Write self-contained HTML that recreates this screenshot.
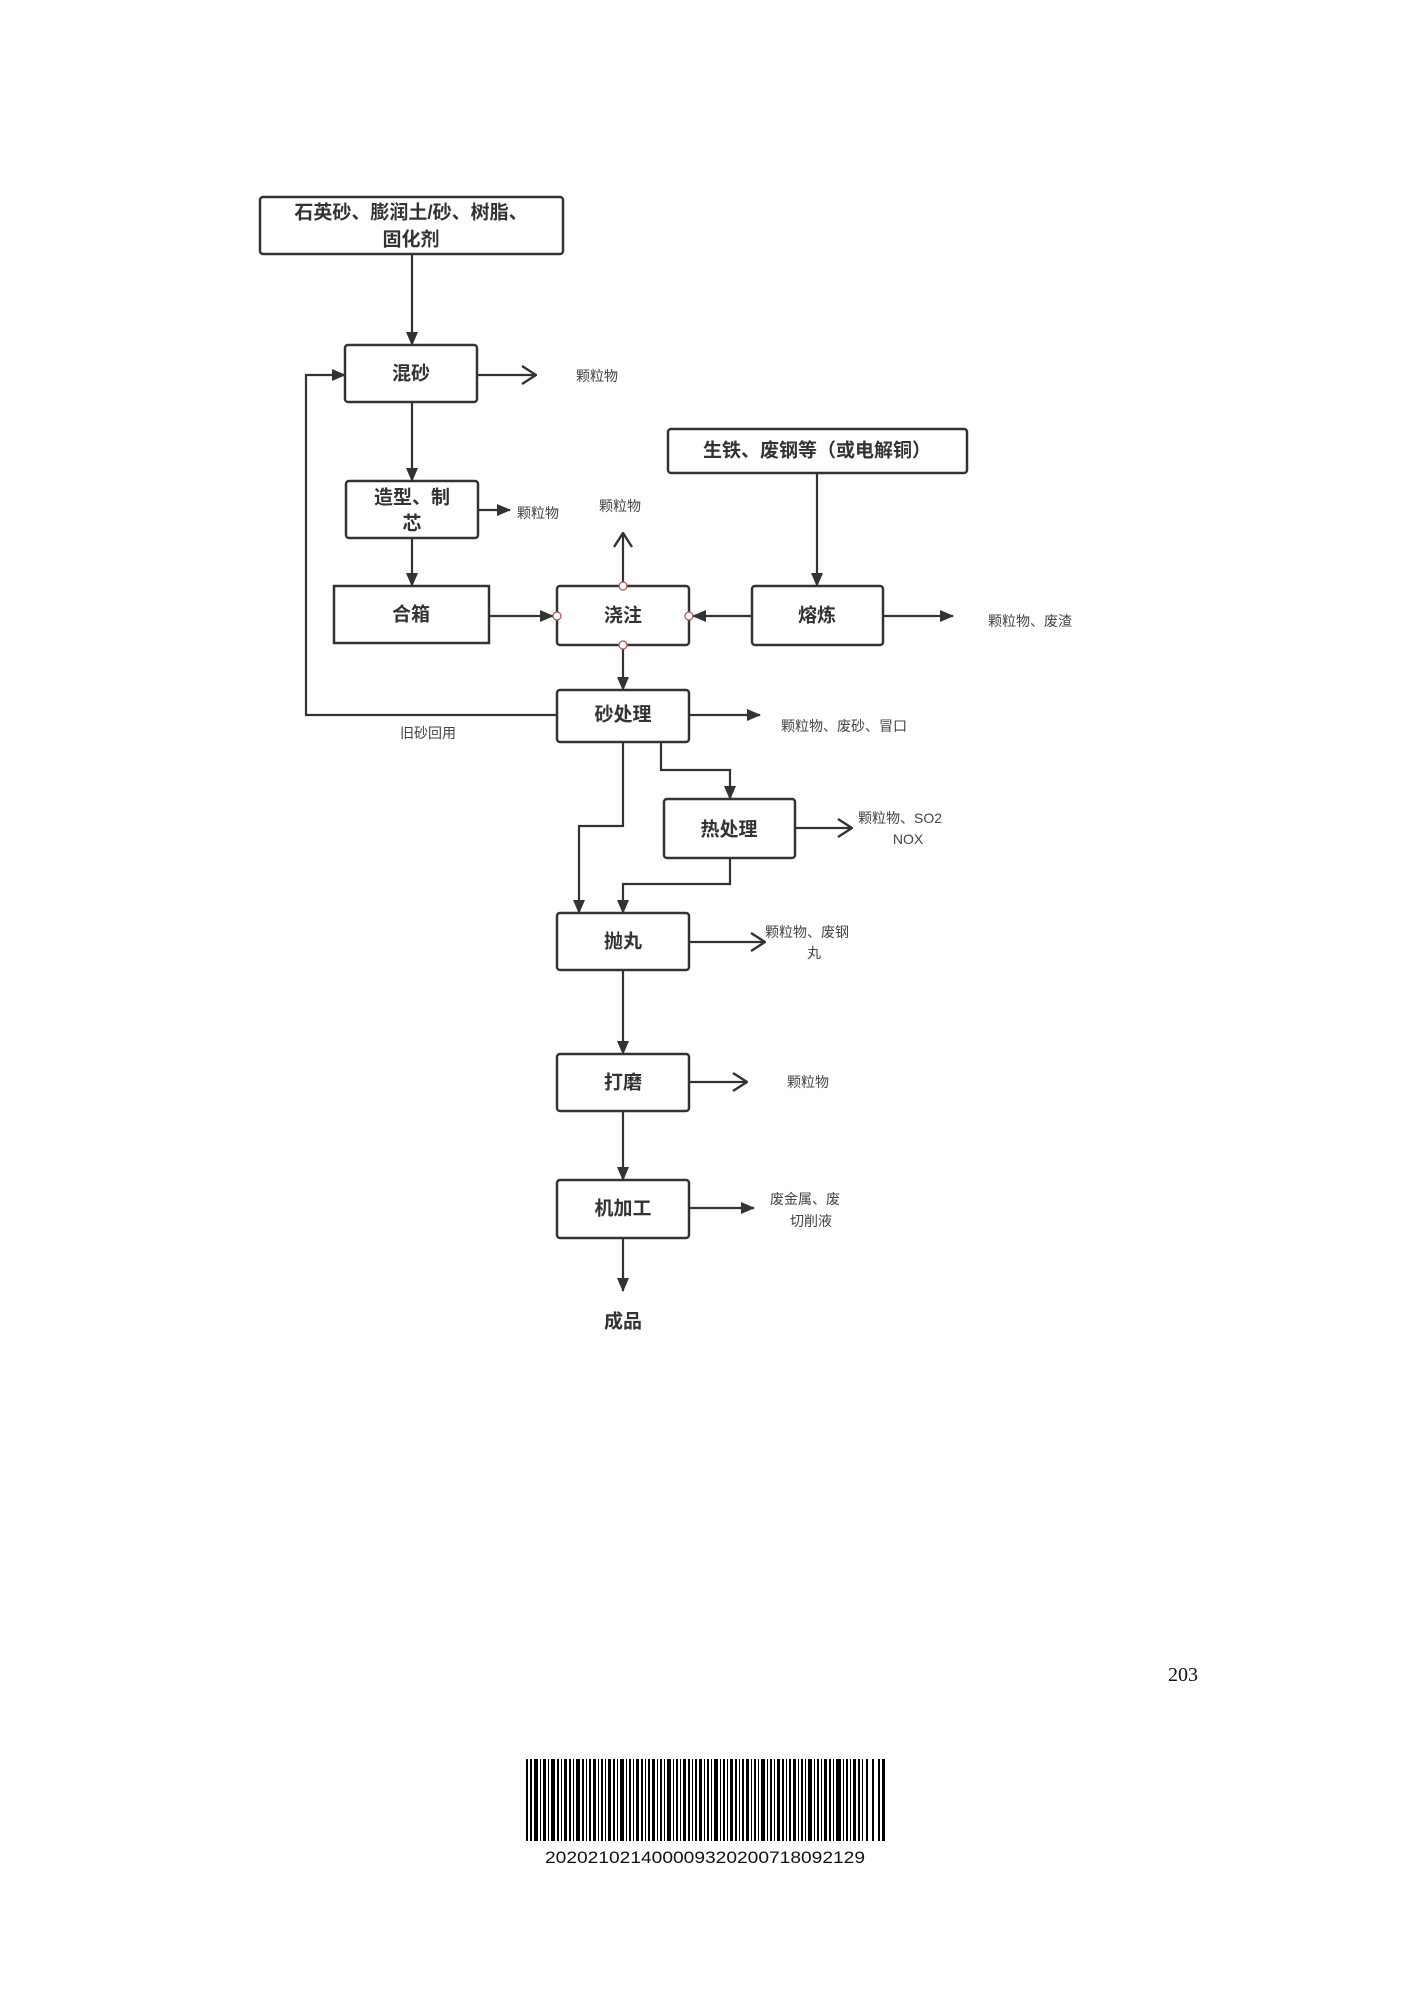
<!DOCTYPE html>
<html><head><meta charset="utf-8">
<style>
html,body{margin:0;padding:0;background:#fff;}
svg{display:block;}
.b{font-family:"Liberation Sans","Noto Sans CJK SC",sans-serif;font-weight:bold;font-size:19px;fill:#333;text-anchor:middle;dominant-baseline:central;}
.s{font-family:"Liberation Sans","Noto Sans CJK SC",sans-serif;font-size:14px;fill:#444;dominant-baseline:central;}
</style></head><body>
<svg width="1411" height="1995" viewBox="0 0 1411 1995" xmlns="http://www.w3.org/2000/svg">
<defs>
<marker id="f" markerWidth="14" markerHeight="12" refX="13" refY="6" orient="auto" markerUnits="userSpaceOnUse" viewBox="0 0 14 12"><path d="M0,0 L14,6 L0,12 z" fill="#333"/></marker>
<marker id="o" markerWidth="16" markerHeight="20" refX="15" refY="10" orient="auto" markerUnits="userSpaceOnUse" viewBox="0 0 16 20"><path d="M1,1 L15,10 L1,19" fill="none" stroke="#333" stroke-width="2.4"/></marker>
</defs>
<g fill="#fff" stroke="#333" stroke-width="2.5">
<rect x="260" y="197" width="303" height="57" rx="3"/>
<rect x="345" y="345" width="132" height="57" rx="3"/>
<rect x="346" y="481" width="132" height="57" rx="3"/>
<rect x="334" y="586" width="155" height="57"/>
<rect x="557" y="586" width="132" height="59" rx="3"/>
<rect x="752" y="586" width="131" height="59" rx="3"/>
<rect x="668" y="429" width="299" height="44" rx="3"/>
<rect x="557" y="690" width="132" height="52" rx="3"/>
<rect x="664" y="799" width="131" height="59" rx="3"/>
<rect x="557" y="913" width="132" height="57" rx="3"/>
<rect x="557" y="1054" width="132" height="57" rx="3"/>
<rect x="557" y="1180" width="132" height="58" rx="3"/>
</g>
<g fill="none" stroke="#333" stroke-width="2.2">
<line x1="412" y1="254" x2="412" y2="345" marker-end="url(#f)"/>
<line x1="477" y1="375" x2="536" y2="375" marker-end="url(#o)"/>
<line x1="412" y1="402" x2="412" y2="481" marker-end="url(#f)"/>
<line x1="478" y1="510" x2="510" y2="510" marker-end="url(#f)"/>
<line x1="412" y1="538" x2="412" y2="586" marker-end="url(#f)"/>
<line x1="623" y1="586" x2="623" y2="533" marker-end="url(#o)"/>
<line x1="489" y1="616" x2="553" y2="616" marker-end="url(#f)"/>
<line x1="752" y1="616" x2="693" y2="616" marker-end="url(#f)"/>
<line x1="883" y1="616" x2="953" y2="616" marker-end="url(#f)"/>
<line x1="817" y1="473" x2="817" y2="586" marker-end="url(#f)"/>
<line x1="623" y1="649" x2="623" y2="690" marker-end="url(#f)"/>
<line x1="689" y1="715" x2="760" y2="715" marker-end="url(#f)"/>
<polyline points="557,715 306,715 306,375 345,375" marker-end="url(#f)"/>
<polyline points="623,742 623,826 579,826 579,913" marker-end="url(#f)"/>
<polyline points="661,742 661,770 730,770 730,799" marker-end="url(#f)"/>
<polyline points="730,858 730,884 623,884 623,913" marker-end="url(#f)"/>
<line x1="795" y1="828" x2="852" y2="828" marker-end="url(#o)"/>
<line x1="689" y1="942" x2="765" y2="942" marker-end="url(#o)"/>
<line x1="623" y1="970" x2="623" y2="1054" marker-end="url(#f)"/>
<line x1="689" y1="1082" x2="747" y2="1082" marker-end="url(#o)"/>
<line x1="623" y1="1111" x2="623" y2="1180" marker-end="url(#f)"/>
<line x1="689" y1="1208" x2="754" y2="1208" marker-end="url(#f)"/>
<line x1="623" y1="1238" x2="623" y2="1291" marker-end="url(#f)"/>
</g>
<g fill="#fff" stroke="#b05050" stroke-width="1.2">
<circle cx="557" cy="616" r="4"/><circle cx="689" cy="616" r="4"/>
<circle cx="623" cy="586" r="4"/><circle cx="623" cy="645" r="4"/>
</g>
<text class="b" x="411" y="213">石英砂、膨润土/砂、树脂、</text>
<text class="b" x="411" y="240">固化剂</text>
<text class="b" x="411" y="374">混砂</text>
<text class="b" x="412" y="498">造型、制</text>
<text class="b" x="412" y="524">芯</text>
<text class="b" x="411" y="615">合箱</text>
<text class="b" x="623" y="616">浇注</text>
<text class="b" x="817" y="616">熔炼</text>
<text class="b" x="817" y="451">生铁、废钢等（或电解铜）</text>
<text class="b" x="623" y="715">砂处理</text>
<text class="b" x="729" y="830">热处理</text>
<text class="b" x="623" y="942">抛丸</text>
<text class="b" x="623" y="1083">打磨</text>
<text class="b" x="623" y="1209">机加工</text>
<text class="b" x="623" y="1322">成品</text>
<text class="s" x="576" y="376">颗粒物</text>
<text class="s" x="517" y="513">颗粒物</text>
<text class="s" x="599" y="506">颗粒物</text>
<text class="s" x="988" y="621">颗粒物、废渣</text>
<text class="s" x="781" y="726">颗粒物、废砂、冒口</text>
<text class="s" x="400" y="733">旧砂回用</text>
<text class="s" x="858" y="818">颗粒物、SO2</text>
<text class="s" x="908" y="839" text-anchor="middle">NOX</text>
<text class="s" x="765" y="932">颗粒物、废钢</text>
<text class="s" x="814" y="953" text-anchor="middle">丸</text>
<text class="s" x="787" y="1082">颗粒物</text>
<text class="s" x="770" y="1199">废金属、废</text>
<text class="s" x="811" y="1221" text-anchor="middle">切削液</text>
<text x="1168" y="1681" font-family="Liberation Serif,serif" font-size="20" fill="#111">203</text>
<g fill="#000">
<rect x="526" y="1759" width="2" height="82"/><rect x="530" y="1759" width="2" height="82"/><rect x="534" y="1759" width="4" height="82"/><rect x="540" y="1759" width="1" height="82"/><rect x="543" y="1759" width="3" height="82"/><rect x="548" y="1759" width="1" height="82"/><rect x="551" y="1759" width="4" height="82"/><rect x="557" y="1759" width="2" height="82"/><rect x="561" y="1759" width="1" height="82"/><rect x="564" y="1759" width="3" height="82"/><rect x="569" y="1759" width="2" height="82"/><rect x="573" y="1759" width="1" height="82"/><rect x="576" y="1759" width="4" height="82"/><rect x="582" y="1759" width="2" height="82"/><rect x="586" y="1759" width="1" height="82"/><rect x="589" y="1759" width="2" height="82"/><rect x="593" y="1759" width="3" height="82"/><rect x="598" y="1759" width="1" height="82"/><rect x="601" y="1759" width="2" height="82"/><rect x="605" y="1759" width="1" height="82"/><rect x="608" y="1759" width="3" height="82"/><rect x="613" y="1759" width="2" height="82"/><rect x="617" y="1759" width="1" height="82"/><rect x="620" y="1759" width="4" height="82"/><rect x="626" y="1759" width="1" height="82"/><rect x="629" y="1759" width="2" height="82"/><rect x="633" y="1759" width="1" height="82"/><rect x="636" y="1759" width="3" height="82"/><rect x="641" y="1759" width="2" height="82"/><rect x="645" y="1759" width="1" height="82"/><rect x="648" y="1759" width="2" height="82"/><rect x="652" y="1759" width="3" height="82"/><rect x="657" y="1759" width="1" height="82"/><rect x="660" y="1759" width="2" height="82"/><rect x="664" y="1759" width="1" height="82"/><rect x="667" y="1759" width="4" height="82"/><rect x="673" y="1759" width="1" height="82"/><rect x="676" y="1759" width="2" height="82"/><rect x="680" y="1759" width="1" height="82"/><rect x="683" y="1759" width="3" height="82"/><rect x="688" y="1759" width="2" height="82"/><rect x="692" y="1759" width="1" height="82"/><rect x="695" y="1759" width="2" height="82"/><rect x="699" y="1759" width="3" height="82"/><rect x="704" y="1759" width="1" height="82"/><rect x="707" y="1759" width="2" height="82"/><rect x="711" y="1759" width="1" height="82"/><rect x="714" y="1759" width="4" height="82"/><rect x="720" y="1759" width="1" height="82"/><rect x="723" y="1759" width="2" height="82"/><rect x="727" y="1759" width="1" height="82"/><rect x="730" y="1759" width="3" height="82"/><rect x="735" y="1759" width="2" height="82"/><rect x="739" y="1759" width="1" height="82"/><rect x="742" y="1759" width="2" height="82"/><rect x="746" y="1759" width="3" height="82"/><rect x="751" y="1759" width="1" height="82"/><rect x="754" y="1759" width="2" height="82"/><rect x="758" y="1759" width="1" height="82"/><rect x="761" y="1759" width="4" height="82"/><rect x="767" y="1759" width="1" height="82"/><rect x="770" y="1759" width="2" height="82"/><rect x="774" y="1759" width="1" height="82"/><rect x="777" y="1759" width="3" height="82"/><rect x="782" y="1759" width="2" height="82"/><rect x="786" y="1759" width="1" height="82"/><rect x="789" y="1759" width="2" height="82"/><rect x="793" y="1759" width="3" height="82"/><rect x="798" y="1759" width="1" height="82"/><rect x="801" y="1759" width="2" height="82"/><rect x="805" y="1759" width="1" height="82"/><rect x="808" y="1759" width="4" height="82"/><rect x="814" y="1759" width="1" height="82"/><rect x="817" y="1759" width="2" height="82"/><rect x="821" y="1759" width="1" height="82"/><rect x="824" y="1759" width="3" height="82"/><rect x="829" y="1759" width="2" height="82"/><rect x="833" y="1759" width="1" height="82"/><rect x="836" y="1759" width="5" height="82"/><rect x="843" y="1759" width="1" height="82"/><rect x="846" y="1759" width="2" height="82"/><rect x="850" y="1759" width="1" height="82"/><rect x="853" y="1759" width="3" height="82"/><rect x="858" y="1759" width="2" height="82"/><rect x="862" y="1759" width="1" height="82"/><rect x="866" y="1759" width="2" height="82"/><rect x="872" y="1759" width="2" height="82"/><rect x="878" y="1759" width="2" height="82"/><rect x="882" y="1759" width="3" height="82"/>
</g>
<text x="705" y="1863" text-anchor="middle" font-family="Liberation Sans,sans-serif" font-size="17" fill="#111" textLength="320" lengthAdjust="spacingAndGlyphs">202021021400009320200718092129</text>
</svg>
</body></html>
